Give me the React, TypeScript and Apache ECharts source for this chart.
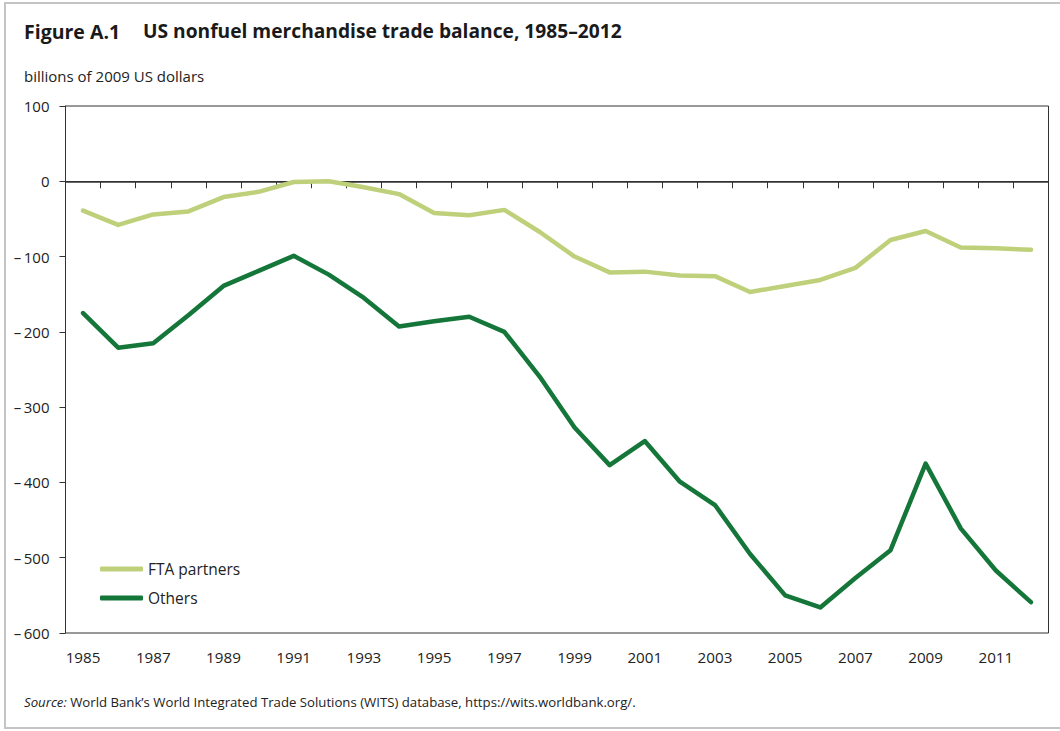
import React, { useEffect, useRef } from "react";
import * as echarts from "echarts";

const years = [
  "1985", "1986", "1987", "1988", "1989", "1990", "1991", "1992", "1993", "1994",
  "1995", "1996", "1997", "1998", "1999", "2000", "2001", "2002", "2003", "2004",
  "2005", "2006", "2007", "2008", "2009", "2010", "2011", "2012",
];
const ftaPartners = [
  -39, -58, -44, -40, -21, -14, -1, 0, -8, -17,
  -42, -45, -38, -67, -100, -121, -120, -125, -126, -147,
  -139, -131, -115, -78, -66, -88, -89, -91,
];
const others = [
  -175, -221, -215, -178, -139, -119, -99, -124, -155, -193,
  -186, -180, -200, -259, -327, -377, -345, -399, -430, -495,
  -550, -566, -527, -490, -375, -461, -517, -559,
];
const seriesNames = ["FTA partners", "Others"];
const yMin = -600;
const yMax = 100;
const yStep = 100;

const FONT = "'Open Sans', 'Noto Sans', sans-serif";
const LIGHT = "#bfd07b";
const DARK = "#15763a";

export default function App() {
  const ref = useRef<HTMLDivElement>(null);
  useEffect(() => {
    if (!ref.current) return;
    const chart = echarts.init(ref.current, null, { renderer: "svg" });
    chart.setOption({
      animation: false,
      backgroundColor: "#ffffff",
      textStyle: { fontFamily: FONT },
      graphic: [
        {
          type: "rect",
          shape: { x: 5, y: 3, width: 1060, height: 725 },
          style: { fill: "none", stroke: "#c4c4c4", lineWidth: 2 },
          silent: true,
        },
        {
          type: "text",
          left: 24,
          top: 21,
          style: { text: "Figure A.1", font: `bold 19.5px ${FONT}`, fill: "#1a1a1a" },
        },
        {
          type: "text",
          left: 143,
          top: 21,
          style: {
            text: "US nonfuel merchandise trade balance, 1985\u20132012",
            font: `bold 19.2px ${FONT}`,
            fill: "#1a1a1a",
          },
        },
        {
          type: "text",
          left: 24,
          top: 68,
          style: { text: "billions of 2009 US dollars", font: `15px ${FONT}`, fill: "#222" },
        },
        {
          type: "text",
          left: 24,
          top: 695,
          style: {
            text: "{i|Source:} World Bank\u2019s World Integrated Trade Solutions (WITS) database, https://wits.worldbank.org/.",
            font: `13.2px ${FONT}`,
            fill: "#222",
            rich: {
              i: { fontStyle: "italic", fontSize: 13.2, fontFamily: FONT, fill: "#222" },
            },
          },
        },
      ],
      legend: {
        orient: "vertical",
        left: 95,
        top: 555,
        itemWidth: 43,
        itemHeight: 5,
        itemGap: 11,
        icon: "roundRect",
        textStyle: { fontSize: 15.5, color: "#222", fontFamily: FONT, lineHeight: 18 },
        data: seriesNames,
      },
      grid: {
        left: 65.5,
        right: 11.5,
        top: 106,
        bottom: 98,
        show: true,
        borderColor: "#333",
        borderWidth: 1,
        containLabel: false,
      },
      xAxis: {
        type: "category",
        data: years,
        boundaryGap: true,
        axisLine: { lineStyle: { color: "#333", width: 1 } },
        axisTick: { show: true, interval: 0, length: 7, lineStyle: { color: "#333" } },
        axisLabel: { interval: 1, margin: 16, fontSize: 15.2, color: "#222", fontFamily: FONT },
        splitLine: { show: false },
      },
      yAxis: {
        type: "value",
        min: yMin,
        max: yMax,
        interval: yStep,
        axisLine: { show: true, lineStyle: { color: "#333", width: 1 } },
        axisTick: { show: true, length: 6, lineStyle: { color: "#333" } },
        axisLabel: {
          margin: 16,
          fontSize: 15,
          color: "#222",
          fontFamily: FONT,
          formatter: (v: number) => (v < 0 ? "\u2013\u2009" + Math.abs(v) : String(v)),
        },
        splitLine: { show: false },
      },
      series: [
        {
          name: seriesNames[0],
          type: "line",
          data: ftaPartners,
          symbol: "none",
          color: LIGHT,
          lineStyle: { color: LIGHT, width: 4.5, cap: "round", join: "round" },
          z: 3,
          markLine: {
            silent: true,
            symbol: "none",
            label: { show: false },
            lineStyle: { color: "#333", width: 1.5, type: "solid" },
            data: [{ yAxis: 0 }],
            z: 1,
          },
        },
        {
          name: seriesNames[1],
          type: "line",
          data: others,
          symbol: "none",
          color: DARK,
          lineStyle: { color: DARK, width: 4.5, cap: "round", join: "round" },
          z: 4,
        },
      ],
    });
    return () => chart.dispose();
  }, []);
  return (
    <div
      ref={ref}
      style={{ position: "fixed", left: 0, top: 0, width: 1060, height: 731, background: "#fff" }}
    />
  );
}
